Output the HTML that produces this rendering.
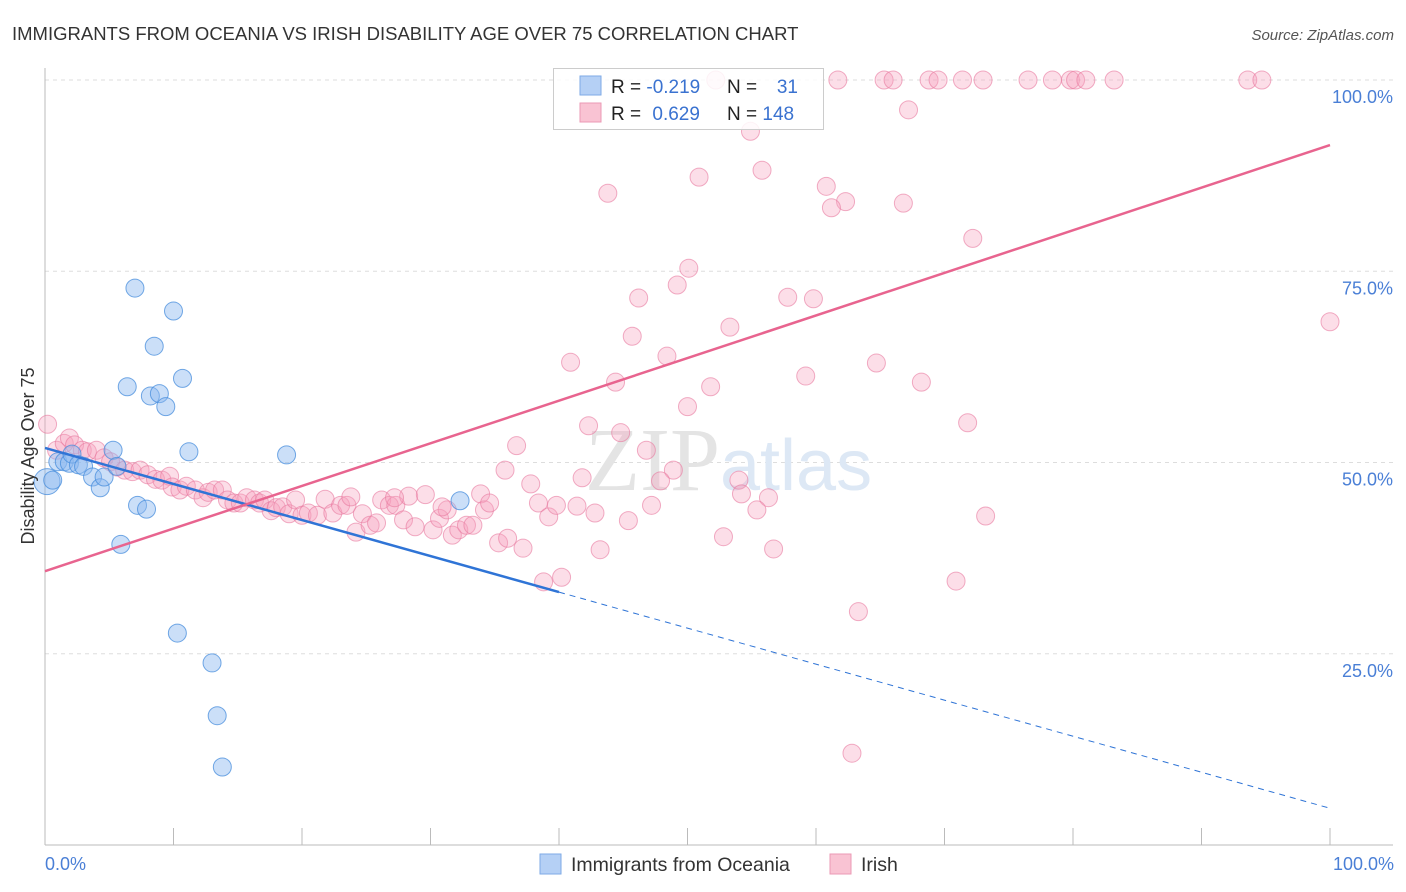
<!DOCTYPE html>
<html><head><meta charset="utf-8"><style>
body{margin:0;background:#fff;font-family:"Liberation Sans",sans-serif;}
svg{display:block}
</style></head><body>
<svg id="chart" width="1406" height="892">
<text x="12" y="40" font-size="18.5" fill="#333">IMMIGRANTS FROM OCEANIA VS IRISH DISABILITY AGE OVER 75 CORRELATION CHART</text>
<text x="1394" y="40" font-size="15" fill="#555" text-anchor="end" font-style="italic">Source: ZipAtlas.com</text>
<g id="grid"></g>
<text x="720" y="490" font-size="90" fill="#e4e4e4" text-anchor="end" font-family="Liberation Serif">ZIP</text>
<text x="720" y="490" font-size="72" fill="#dde8f5">atlas</text>
<g id="marks"></g>
<text transform="translate(34,456) rotate(-90)" font-size="18" fill="#333" text-anchor="middle">Disability Age Over 75</text>
<text x="45" y="870" font-size="18" fill="#4a7fd6">0.0%</text>
<text x="1394" y="870" font-size="18" fill="#4a7fd6" text-anchor="end">100.0%</text>
<g>
<rect x="553.5" y="68.5" width="270" height="61" fill="#fff" fill-opacity="0.85" stroke="#ccc"/>
<rect x="580" y="76" width="21" height="19" fill="#b5d0f5" stroke="#7eaae6"/>
<rect x="580" y="103" width="21" height="19" fill="#f9c3d3" stroke="#eb9ab4"/>
<text x="611" y="93" font-size="19" fill="#222">R = <tspan fill="#3a72d0">-0.219</tspan></text>
<text x="727" y="93" font-size="19" fill="#222">N = </text><text x="798" y="93" font-size="19" fill="#3a72d0" text-anchor="end">31</text>
<text x="611" y="120" font-size="19" fill="#222">R = <tspan fill="#3a72d0" dx="6">0.629</tspan></text>
<text x="727" y="120" font-size="19" fill="#222">N = <tspan fill="#3a72d0">148</tspan></text>
</g>
<g>
<rect x="540" y="854" width="21" height="20" fill="#b5d0f5" stroke="#7eaae6"/>
<text x="571" y="871" font-size="19.5" fill="#333">Immigrants from Oceania</text>
<rect x="830" y="854" width="21" height="20" fill="#f9c3d3" stroke="#eb9ab4"/>
<text x="861" y="871" font-size="19.5" fill="#333">Irish</text>
</g>
</svg>
<script>
const yTicks=[25,50,75,100];
const yTickLabels=["25.0%","50.0%","75.0%","100.0%"];
const xTicks=[0,10,20,30,40,50,60,70,80,90,100];
const blueX=[0.16,0.6,1.0,1.5,1.9,2.1,2.6,3.0,3.7,4.3,4.6,5.3,5.6,7.0,6.4,8.5,8.2,8.9,9.4,10.7,10.0,11.2,7.2,7.9,5.9,10.3,13.0,13.4,13.8,18.8,32.3];
const blueY=[47.5,47.7,50.1,50.1,49.9,51.1,49.7,49.5,48.1,46.7,48.1,51.6,49.5,72.8,59.9,65.2,58.7,59.0,57.3,61.0,69.8,51.4,44.4,43.9,39.3,27.7,23.8,16.9,10.2,51.0,45.0];
const pinkX=[52.2,61.7,65.3,66.0,68.8,69.5,71.4,73.0,76.5,78.4,79.8,80.2,81.0,83.2,93.6,94.7,67.2,54.9,43.8,50.9,55.8,60.8,62.3,61.2,66.8,72.2,50.1,49.2,46.2,57.8,59.8,53.3,45.7,100,40.9,48.4,64.7,59.2,44.4,51.8,68.2,50.0,71.8,42.3,44.8,46.8,48.9,36.7,35.8,41.8,47.9,54.0,54.2,56.3,37.8,55.4,38.4,39.2,39.8,41.4,42.8,45.4,47.2,73.2,52.8,43.2,56.7,35.3,37.2,36.0,38.8,40.2,70.9,63.3,62.8,
0.2,0.9,1.5,1.9,2.3,2.9,3.3,4.0,4.6,5.1,5.6,6.2,6.8,7.4,8.0,8.6,9.1,9.7,9.9,10.5,11.0,11.7,12.3,12.7,13.2,13.8,14.2,14.7,15.2,15.7,16.3,16.7,17.1,17.6,18.0,18.5,19.0,19.5,20.0,20.5,21.2,21.8,22.4,23.0,23.5,23.8,24.2,24.7,25.3,25.8,26.2,26.8,27.3,27.9,28.3,28.8,29.6,30.2,30.7,31.3,31.7,32.2,32.8,33.3,33.9,34.2,34.6,30.9,27.2];
const pinkY=[100,100,100,100,100,100,100,100,100,100,100,100,100,100,100,100,96.1,93.3,85.2,87.3,88.2,86.1,84.1,83.3,83.9,79.3,75.4,73.2,71.5,71.6,71.4,67.7,66.5,68.4,63.1,63.9,63.0,61.3,60.5,59.9,60.5,57.3,55.2,54.8,53.9,51.6,49.0,52.2,49.0,48.0,47.6,47.7,45.9,45.4,47.2,43.8,44.7,42.9,44.4,44.3,43.4,42.4,44.4,43.0,40.3,38.6,38.7,39.5,38.8,40.1,34.4,35.0,34.5,30.5,12.0,
55.0,51.6,52.5,53.2,52.3,51.6,51.4,51.6,50.6,50.1,49.4,49.0,48.8,49.0,48.4,47.8,47.7,48.2,46.8,46.4,46.9,46.4,45.4,46.1,46.4,46.4,45.1,44.7,44.7,45.4,45.1,44.7,45.1,43.7,44.1,44.2,43.3,45.1,43.1,43.4,43.1,45.2,43.4,44.4,44.4,45.5,40.9,43.3,41.8,42.1,45.1,44.4,44.4,42.5,45.6,41.6,45.8,41.2,42.7,43.8,40.5,41.2,41.8,41.8,45.9,43.8,44.7,44.2,45.4];
const blueTrend=[51.9,4.8];
const pinkTrend=[35.8,91.5];
const blueSolidEnd=40;
const NS="http://www.w3.org/2000/svg";
const X=v=>45+v*12.85, Y=v=>845-v*7.65;
function mk(tag,at,parent){const e=document.createElementNS(NS,tag);for(const k in at)e.setAttribute(k,at[k]);parent.appendChild(e);return e;}
const grid=document.getElementById('grid'),marks=document.getElementById('marks');
yTicks.forEach((t,i)=>{
 const l=mk('line',{x1:45,x2:1393,y1:Y(t),y2:Y(t),stroke:'#ddd','stroke-dasharray':'4,4'},grid);
 
 
 const tx=mk('text',{x:1393,y:Y(t)+23,'font-size':18,fill:'#4a7fd6','text-anchor':'end'},grid);
 tx.textContent=yTickLabels[i];
 
 
});
const ax=mk('line',{x1:45,x2:45,y1:68,y2:845,stroke:'#bbb'},grid);


const bx=mk('line',{x1:45,x2:1393,y1:845,y2:845,stroke:'#bbb'},grid);


xTicks.forEach(t=>{const l=mk('line',{x1:X(t),x2:X(t),y1:828,y2:845,stroke:'#bbb'},grid);
 
 });
pinkX.forEach((x,i)=>{const c=mk('circle',{cx:X(x),cy:Y(pinkY[i]),r:9,fill:'rgba(245,160,188,0.35)',stroke:'rgba(232,120,158,0.6)','stroke-width':1},marks);
 
 });
blueX.forEach((x,i)=>{const c=mk('circle',{cx:X(x),cy:Y(blueY[i]),r:i==0?13:9,fill:'rgba(140,185,240,0.45)',stroke:'rgba(70,140,220,0.75)','stroke-width':1},marks);
 
 });
const by=v=>blueTrend[0]+(blueTrend[1]-blueTrend[0])*v/100;
const b1=mk('line',{x1:X(0),y1:Y(by(0)),x2:X(blueSolidEnd),y2:Y(by(blueSolidEnd)),stroke:'#2f74d6','stroke-width':2.5},marks);


const b2=mk('line',{x1:X(blueSolidEnd),y1:Y(by(blueSolidEnd)),x2:X(100),y2:Y(by(100)),stroke:'#2f74d6','stroke-width':1,'stroke-dasharray':'6,5'},marks);


const p=mk('line',{x1:X(0),y1:Y(pinkTrend[0]),x2:X(100),y2:Y(pinkTrend[1]),stroke:'#e8648f','stroke-width':2.5},marks);


</script>
</body></html>
